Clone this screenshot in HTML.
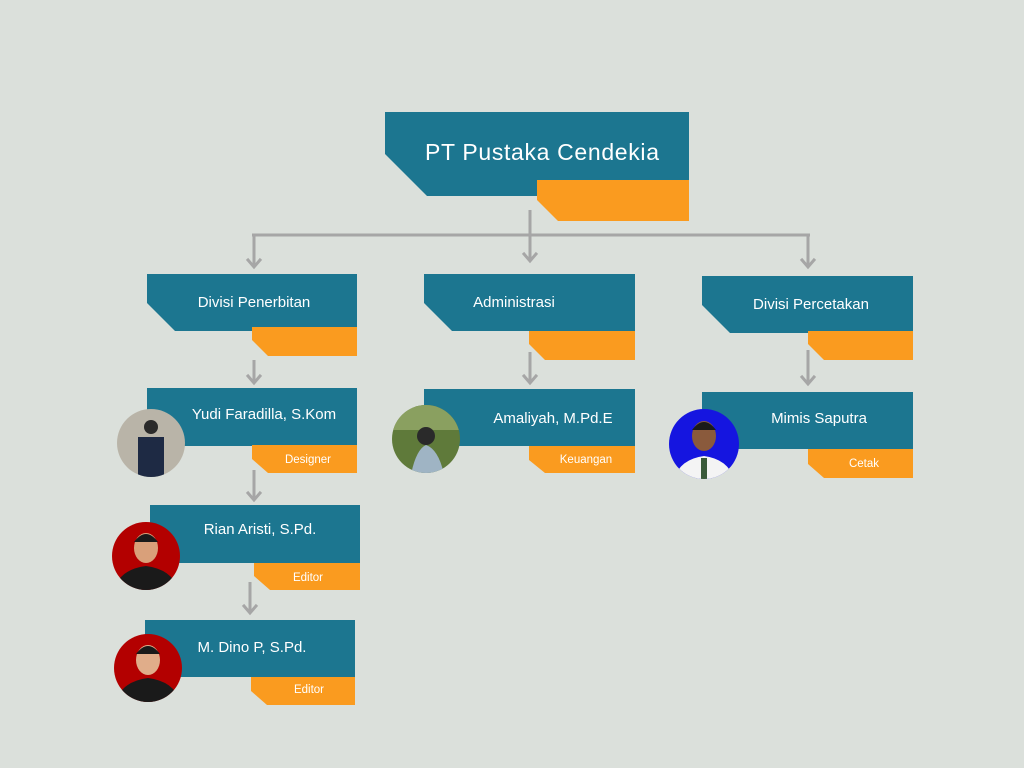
<!DOCTYPE html>
<html><head><meta charset="utf-8"><style>
html,body{margin:0;padding:0;background:#dbe0db;}
svg{display:block}
text{font-family:"Liberation Sans",sans-serif;fill:#fff}
</style></head><body>
<svg width="1024" height="768" viewBox="0 0 1024 768" xmlns="http://www.w3.org/2000/svg">
<rect width="1024" height="768" fill="#dbe0db"/>
<g stroke="#a6a6a6" stroke-width="3" fill="none">
<line x1="252" y1="235" x2="810" y2="235"/>
<line x1="530" y1="210" x2="530" y2="260"/>
<line x1="254" y1="235" x2="254" y2="266"/>
<line x1="808" y1="235" x2="808" y2="266"/>
<line x1="254" y1="360" x2="254" y2="382"/>
<line x1="530" y1="352" x2="530" y2="382"/>
<line x1="808" y1="350" x2="808" y2="383"/>
<line x1="254" y1="470" x2="254" y2="499"/>
<line x1="250" y1="582" x2="250" y2="612"/>
</g>
<g stroke="#a6a6a6" stroke-width="3" fill="none" stroke-linecap="square">
<path d="M524,254 L530,261 L536,254"/>
<path d="M248,260 L254,267 L260,260"/>
<path d="M802,260 L808,267 L814,260"/>
<path d="M248,376 L254,383 L260,376"/>
<path d="M524,376 L530,383 L536,376"/>
<path d="M802,377 L808,384 L814,377"/>
<path d="M248,493 L254,500 L260,493"/>
<path d="M244,606 L250,613 L256,606"/>
</g>
<!-- top -->
<polygon points="385,112 689,112 689,196 427,196 385,154" fill="#1c7690"/>
<polygon points="537,180 689,180 689,221 558,221 537,200" fill="#fa9b1f"/>
<text x="542" y="160" font-size="23" text-anchor="middle" textLength="234">PT Pustaka Cendekia</text>
<!-- divisions -->
<polygon points="147,274 357,274 357,331 175,331 147,303" fill="#1c7690"/>
<polygon points="252,327 357,327 357,356 268,356 252,340" fill="#fa9b1f"/>
<text x="254" y="307" font-size="15" text-anchor="middle">Divisi Penerbitan</text>
<polygon points="424,274 635,274 635,331 452,331 424,303" fill="#1c7690"/>
<polygon points="529,331 635,331 635,360 545,360 529,344" fill="#fa9b1f"/>
<text x="514" y="307" font-size="15" text-anchor="middle">Administrasi</text>
<polygon points="702,276 913,276 913,333 730,333 702,305" fill="#1c7690"/>
<polygon points="808,331 913,331 913,360 824,360 808,344" fill="#fa9b1f"/>
<text x="811" y="309" font-size="15" text-anchor="middle">Divisi Percetakan</text>
<!-- persons -->
<rect x="147" y="388" width="210" height="58" fill="#1c7690"/>
<polygon points="252,445 357,445 357,473 268,473 252,459" fill="#fa9b1f"/>
<text x="264" y="419" font-size="15" text-anchor="middle">Yudi Faradilla, S.Kom</text>
<text x="308" y="463" font-size="11.5" text-anchor="middle">Designer</text>

<rect x="150" y="505" width="210" height="58" fill="#1c7690"/>
<polygon points="254,563 360,563 360,590 270,590 254,576" fill="#fa9b1f"/>
<text x="260" y="534" font-size="15" text-anchor="middle">Rian Aristi, S.Pd.</text>
<text x="308" y="581" font-size="11.5" text-anchor="middle">Editor</text>

<rect x="145" y="620" width="210" height="57" fill="#1c7690"/>
<polygon points="251,677 355,677 355,705 267,705 251,691" fill="#fa9b1f"/>
<text x="252" y="652" font-size="15" text-anchor="middle">M. Dino P, S.Pd.</text>
<text x="309" y="693" font-size="11.5" text-anchor="middle">Editor</text>

<rect x="424" y="389" width="211" height="57" fill="#1c7690"/>
<polygon points="529,446 635,446 635,473 545,473 529,460" fill="#fa9b1f"/>
<text x="553" y="423" font-size="15" text-anchor="middle">Amaliyah, M.Pd.E</text>
<text x="586" y="463" font-size="11.5" text-anchor="middle">Keuangan</text>

<rect x="702" y="392" width="211" height="57" fill="#1c7690"/>
<polygon points="808,449 913,449 913,478 824,478 808,464" fill="#fa9b1f"/>
<text x="819" y="423" font-size="15" text-anchor="middle">Mimis Saputra</text>
<text x="864" y="467" font-size="11.5" text-anchor="middle">Cetak</text>
<!-- photos -->
<defs>
<clipPath id="c1"><circle cx="151" cy="443" r="34"/></clipPath>
<clipPath id="c2"><circle cx="146" cy="556" r="34"/></clipPath>
<clipPath id="c3"><circle cx="148" cy="668" r="34"/></clipPath>
<clipPath id="c4"><circle cx="426" cy="439" r="34"/></clipPath>
<clipPath id="c5"><circle cx="704" cy="444" r="35"/></clipPath>
</defs>
<g clip-path="url(#c1)"><rect x="110" y="400" width="90" height="90" fill="#b9b4a8"/><rect x="138" y="437" width="26" height="45" fill="#1e2a44"/><circle cx="151" cy="427" r="7" fill="#2a2a2a"/></g>
<g clip-path="url(#c2)"><rect x="100" y="515" width="90" height="90" fill="#b30000"/><path d="M112,600 Q114,570 146,566 Q178,570 180,600Z" fill="#1a1a1a"/><ellipse cx="146" cy="548" rx="12" ry="15" fill="#d9a07a"/><path d="M134,542 Q146,526 158,542Z" fill="#1a1a1a"/></g>
<g clip-path="url(#c3)"><rect x="100" y="625" width="90" height="90" fill="#b30000"/><path d="M114,712 Q116,682 148,678 Q180,682 182,712Z" fill="#1a1a1a"/><ellipse cx="148" cy="660" rx="12" ry="15" fill="#e0ad8a"/><path d="M136,654 Q148,638 160,654Z" fill="#1a1a1a"/></g>
<g clip-path="url(#c4)"><rect x="385" y="400" width="90" height="90" fill="#5f7a3a"/><rect x="385" y="400" width="90" height="30" fill="#8aa060"/><path d="M410,480 Q415,450 426,445 Q440,450 445,480Z" fill="#9fb4c4"/><circle cx="426" cy="436" r="9" fill="#2a2a2a"/></g>
<g clip-path="url(#c5)"><rect x="665" y="405" width="90" height="90" fill="#1515e0"/><path d="M672,490 Q674,460 704,456 Q734,460 736,490Z" fill="#f4f4f4"/><rect x="701" y="458" width="6" height="22" fill="#3a5a3a"/><ellipse cx="704" cy="436" rx="12" ry="15" fill="#8a5a3c"/><path d="M692,430 Q704,414 716,430Z" fill="#1a1a1a"/></g>
</svg>
</body></html>
